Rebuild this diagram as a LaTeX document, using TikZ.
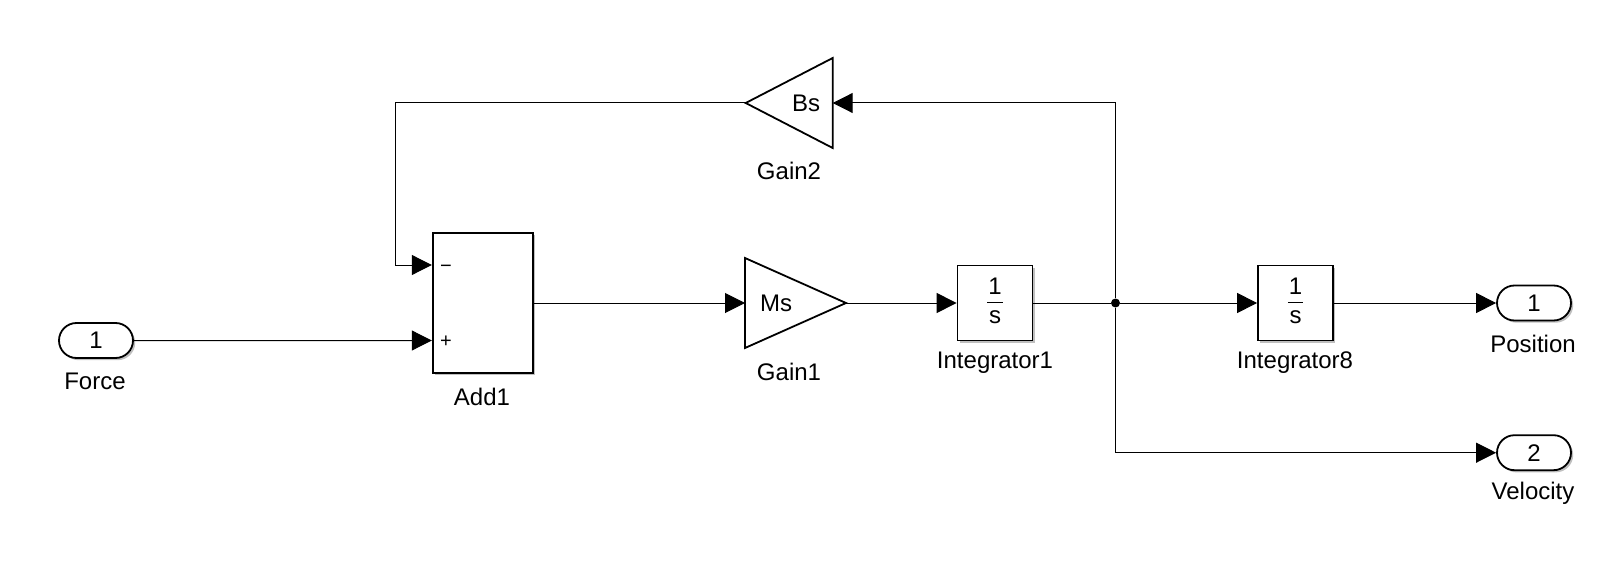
\documentclass[tikz,border=0pt]{standalone}
\usepackage{fontspec}
\setmainfont{Liberation Sans}
\usetikzlibrary{arrows.meta,shapes.geometric,shapes.misc,shadows}

\newcommand{\blocksize}{\fontsize{24}{28}\selectfont}
\newcommand{\oneovers}{\setlength{\arrayrulewidth}{1pt}\renewcommand{\arraystretch}{1.05}%
  \raisebox{-2pt}{\begin{tabular}{@{\hspace{1pt}}c@{\hspace{1pt}}}1\\[-1pt]\hline s\end{tabular}}}

\tikzset{
  softshadow/.style={drop shadow={shadow xshift=2.2pt,shadow yshift=-2.2pt,opacity=0.5}},
  wire/.style={line width=1pt,-{Triangle[length=20pt,width=20pt]}},
  plainwire/.style={line width=1pt},
  block/.style={draw,fill=white,line width=1.8pt,softshadow,inner sep=0pt,font=\blocksize},
  port/.style={block,rounded rectangle,minimum width=74pt,minimum height=35pt},
  gain/.style={draw,fill=white,line width=1.8pt,isosceles triangle,isosceles triangle stretches,
    inner sep=0pt,outer sep=0pt,minimum width=90pt,anchor=apex},
  caption/.style={font=\blocksize,inner sep=0pt},
  sign/.style={font=\fontsize{20}{24}\selectfont,inner sep=0pt}
}

\begin{document}
\begin{tikzpicture}[x=1pt,y=-1pt]
  \useasboundingbox (0,0) rectangle (1617,564);

  % blocks
  \node[port] (force) at (96,340.5) {1};
  \node[block,minimum width=100pt,minimum height=140pt] (add) at (482.7,302.7) {};
  \node[gain,minimum height=101pt] (ms) at (846,303) {};
  \node[gain,minimum height=87pt,shape border rotate=180] (bs) at (745.7,103) {};
  \node[block,minimum size=75pt] (int1) at (995,303) {\oneovers};
  \node[block,minimum size=75pt] (int8) at (1295.5,303) {\oneovers};
  \node[port] (pos) at (1534,303) {1};
  \node[port] (vel) at (1534,452.7) {2};

  % texts inside the blocks
  \node[caption] (mstext) at (776,303) {Ms};
  \node[caption] (bstext) at (806,103) {Bs};
  \node[sign] (minus) at (446,269) {−};
  \node[sign] (plus) at (446,342) {+};

  % names under the blocks
  \node[caption] (forcename) at (95,381) {Force};
  \node[caption] (addname) at (482,397) {Add1};
  \node[caption] (msname) at (789,372) {Gain1};
  \node[caption] (bsname) at (789,171) {Gain2};
  \node[caption] (int1name) at (995,363) {Integrator1};
  \node[caption] (int8name) at (1295,363) {Integrator8};
  \node[caption] (posname) at (1533,344) {Position};
  \node[caption] (velname) at (1533,493) {Velocity};

  % points on the wires
  \node[circle,fill,inner sep=0pt,minimum size=9pt] (tee) at (1115.5,303) {};
  \coordinate (addminus) at (add.west |- 0,265);
  \coordinate (addplus) at (add.west |- force);
  \coordinate (fbturn) at (395.3,265);

  % wires
  \draw[wire] (force) -- (addplus);
  \draw[wire] (bs.apex) -| (fbturn) -- (addminus);
  \draw[wire] (add.east |- ms.lower side) -- (ms.lower side);
  \draw[wire] (ms.apex) -- (int1);
  \draw[plainwire] (int1) -- (tee);
  \draw[wire] (tee) -- (int8);
  \draw[wire] (int8) -- (pos);
  \draw[wire] (tee) |- (bs.lower side);
  \draw[wire] (tee) |- (vel);
\end{tikzpicture}
\end{document}
